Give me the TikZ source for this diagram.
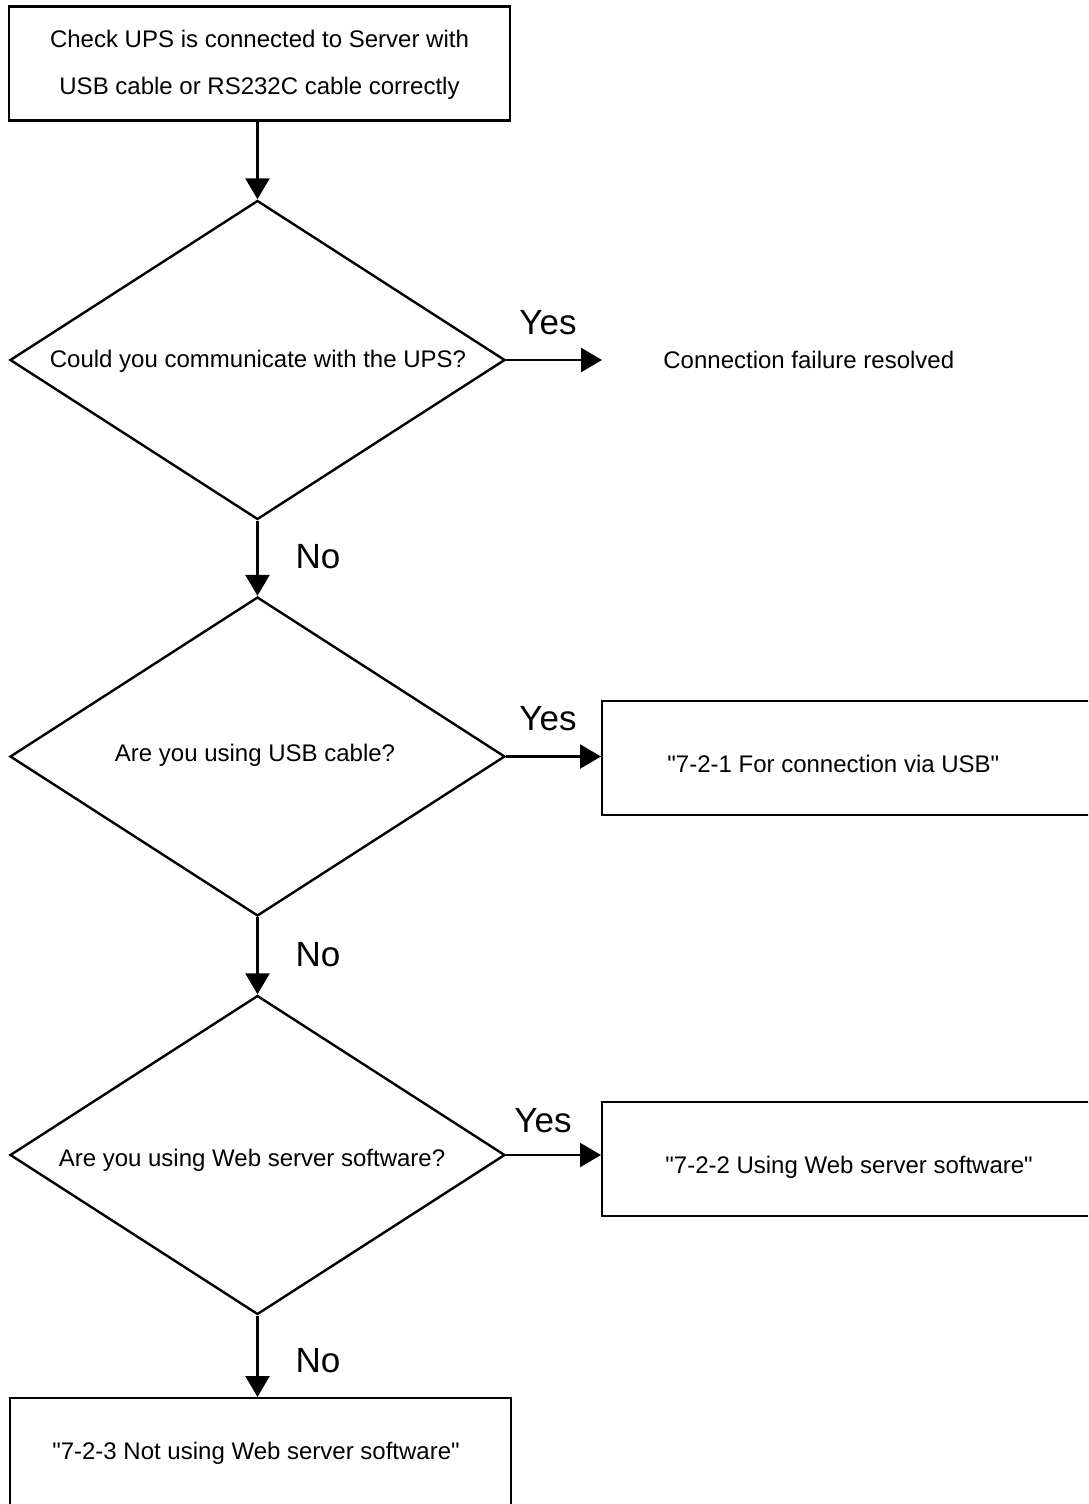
\documentclass[tikz,border=0pt]{standalone}
\usepackage{fontspec}
\setmainfont{Liberation Sans}
\usetikzlibrary{shapes.geometric,arrows.meta}
\newcommand{\dq}{\XeTeXglyph\XeTeXcharglyph"0022\relax}
\begin{document}
\begin{tikzpicture}[x=1pt,y=-1pt,
  box/.style={draw,line width=1.2pt,minimum width=250.5pt,minimum height=57pt,inner sep=0pt},
  dia/.style={draw,diamond,line width=1.2pt,minimum width=247.5pt,minimum height=159.5pt,inner sep=0pt},
  body/.style={font=\fontsize{12}{23.5}\selectfont,inner sep=0pt,align=center},
  lab/.style={font=\fontsize{17.5}{20}\selectfont,inner sep=0pt},
  conn/.style={line width=1.2pt,-{Triangle[length=10.5pt,width=12pt]}}]
\useasboundingbox (0,0) rectangle (544,752);
\clip (0,0) rectangle (544,752);
\fill[white] (0,0) rectangle (544,752);
% nodes
\node[box] (start) at (129.75,31.75) {};
\node[body] (starttext) at (129.75,32.25) {Check UPS is connected to Server with\\USB cable or RS232C cable correctly};
\node[dia] (d1) at (128.75,180) {};
\node[body] (d1text) at (129,180.5) {Could you communicate with the UPS?};
\node[body,anchor=west] (ok) at (331.5,180) {Connection failure resolved};
\coordinate (okend) at (301,180);
\node[dia] (d2) at (128.75,378.25) {};
\node[body] (d2text) at (127.5,377.5) {Are you using USB cable?};
\node[box,anchor=north west] (usb) at (300.5,350) {};
\node[body,anchor=west] (usbtext) at (333.5,382) {\dq 7-2-1 For connection via USB\dq};
\node[dia] (d3) at (128.75,577.5) {};
\node[body] (d3text) at (126,580) {Are you using Web server software?};
\node[box,anchor=north west] (web) at (300.5,550.5) {};
\node[body,anchor=west] (webtext) at (332.5,583.5) {\dq 7-2-2 Using Web server software\dq};
\node[box,anchor=north west] (end) at (4.5,698.5) {};
\node[body] (endtext) at (128,726.5) {\dq 7-2-3 Not using Web server software\dq};
% labels
\node[lab] (y1) at (274,161.5) {Yes};
\node[lab] (n1) at (159,278.5) {No};
\node[lab] (y2) at (274,359.5) {Yes};
\node[lab] (n2) at (159,477.5) {No};
\node[lab] (y3) at (271.5,560.5) {Yes};
\node[lab] (n3) at (159,680.5) {No};
% connectors
\draw[conn] (d1.north |- start.south) -- (d1.north);
\draw[conn] (d1.east) -- (okend);
\draw[conn] (d1.south) -- (d2.north);
\draw[conn] (d2.east) -- (d2.east -| usb.west);
\draw[conn] (d2.south) -- (d3.north);
\draw[conn] (d3.east) -- (d3.east -| web.west);
\draw[conn] (d3.south) -- (end.north -| d3.south);
\end{tikzpicture}
\end{document}
